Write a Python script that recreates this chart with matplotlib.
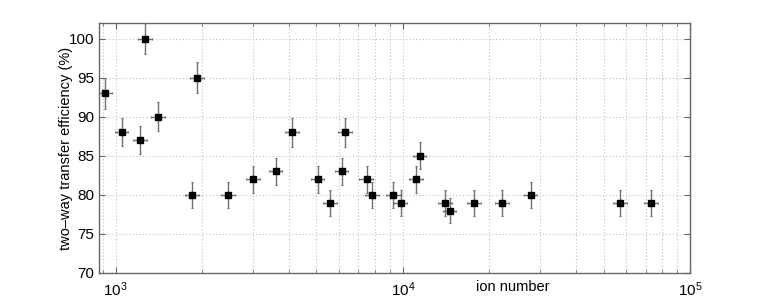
import matplotlib
matplotlib.use("Agg")
import matplotlib.pyplot as plt
import numpy as np

plt.rcParams['font.family'] = ['Liberation Sans', 'DejaVu Sans']
plt.rcParams['mathtext.fontset'] = 'custom'
plt.rcParams['mathtext.rm'] = 'Liberation Sans'
plt.rcParams['mathtext.it'] = 'Liberation Sans'

ion_number = [920, 1050, 1218, 1268, 1407, 1843, 1923, 2460, 3006, 3605,
              4108, 5048, 5570, 6120, 6285, 7476, 7800, 9255, 9840, 11140,
              11440, 14060, 14550, 17690, 22190, 27860, 57000, 73100]
efficiency = [93, 88, 87, 100, 90, 80, 95, 80, 82, 83,
              88, 82, 79, 83, 88, 82, 80, 80, 79, 82,
              85, 79, 78, 79, 79, 80, 79, 79]
eff_err = [2.0, 1.8, 1.8, 2.0, 1.85, 1.65, 1.95, 1.65, 1.7, 1.7,
           1.85, 1.7, 1.65, 1.7, 1.85, 1.7, 1.65, 1.65, 1.65, 1.7,
           1.75, 1.65, 1.6, 1.65, 1.65, 1.65, 1.65, 1.65]
rel_xerr = 0.055

x = np.array(ion_number, dtype=float)
y = np.array(efficiency, dtype=float)
xerr = x * rel_xerr

fig = plt.figure(figsize=(7.63, 3.07), dpi=100)
ax = fig.add_axes([99/763, 1-273/307, 591/763, 250/307])

ax.errorbar(x, y, xerr=xerr, yerr=eff_err, fmt='none', ecolor='#707070',
            elinewidth=1.0, capsize=1.0, capthick=0.8, zorder=3)
ax.plot(x, y, 's', color='black', markersize=4.0, zorder=4)

ax.set_xscale('log')
ax.set_xlim(875, 1e5)
ax.set_ylim(70, 102)
ax.set_yticks([70, 75, 80, 85, 90, 95, 100])

ax.grid(True, which='major', linestyle=(0, (1, 2)), color='#c0c0c0', linewidth=0.8)
ax.grid(True, which='minor', axis='x', linestyle=(0, (1, 2)), color='#c0c0c0', linewidth=0.8)
ax.set_axisbelow(True)

for s in ax.spines.values():
    s.set_color('#666666')
    s.set_linewidth(1.0)
ax.tick_params(which='both', direction='in', top=True, right=True, color='#666666',
               labelsize=11, labelcolor='black')
ax.tick_params(which='major', length=4)
ax.tick_params(which='minor', length=2)
ax.tick_params(axis='x', pad=5)

ax.set_ylabel('two\u2013way transfer efficiency (%)', fontsize=10.5)
ax.yaxis.set_label_coords((73 - 99) / 591, 0.5)
fig.text(513/763, 1-287/307, 'ion number', ha='center', va='center', fontsize=10.5)

fig.savefig('out.png', dpi=100)
